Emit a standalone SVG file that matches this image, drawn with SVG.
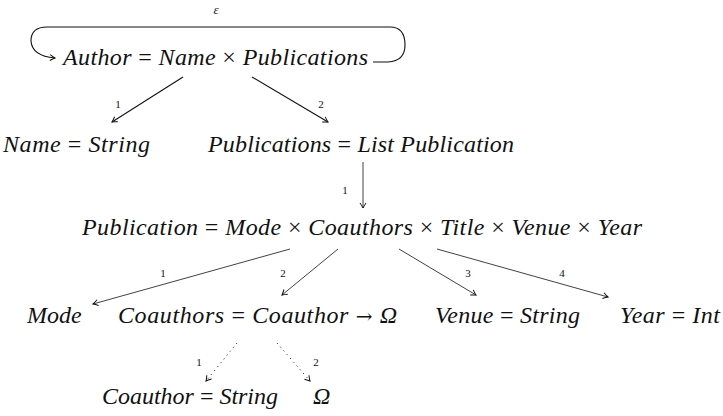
<svg xmlns="http://www.w3.org/2000/svg" width="723" height="416" viewBox="0 0 723 416">
<style>
text{font-family:'Liberation Serif','Times New Roman',serif}
.t{font-size:24px;font-style:italic;fill:#111}
.u{font-style:normal}
.ar{font-style:normal;font-family:'DejaVu Serif',serif;font-size:20px}
.l{font-size:11px;fill:#111;text-anchor:middle}
.e{stroke:#111;stroke-width:1.1;fill:none}
.th{stroke:#111;stroke-width:0.8;fill:none}
.d{stroke:#111;stroke-width:1;fill:none;stroke-dasharray:1 4}
</style>
<defs>
<marker id="ah" viewBox="-6 -4 7 8" refX="0" refY="0" markerWidth="7" markerHeight="8" markerUnits="userSpaceOnUse" orient="auto">
<path d="M -5 -3 Q -1.8 -0.8 0 0 Q -1.8 0.8 -5 3" stroke="#111" stroke-width="1" fill="none"/>
</marker>
</defs>
<rect width="723" height="416" fill="#fff"/>
<g id="connectors">
<path class="e" d="M 373 62 L 388 62 Q 405 61 405 45 Q 405 27 390 27 L 47 27 Q 31 27 31 41 Q 32 56 55 58" marker-end="url(#ah)"/>
<text class="l" x="216" y="14" style="font-style:italic;font-size:13px">ε</text>
<line class="e" x1="183" y1="77" x2="112" y2="122" marker-end="url(#ah)"/>
<text class="l" x="118" y="108">1</text>
<line class="e" x1="252" y1="77" x2="328" y2="122" marker-end="url(#ah)"/>
<text class="l" x="321" y="108">2</text>
<line class="th" x1="363" y1="162" x2="363" y2="208" marker-end="url(#ah)"/>
<text class="l" x="345" y="194">1</text>
<line class="th" x1="290" y1="249" x2="93" y2="304" marker-end="url(#ah)"/>
<text class="l" x="163" y="277">1</text>
<line class="th" x1="338" y1="249" x2="282" y2="295" marker-end="url(#ah)"/>
<text class="l" x="283" y="277">2</text>
<line class="th" x1="399" y1="249" x2="476" y2="295" marker-end="url(#ah)"/>
<text class="l" x="468" y="277">3</text>
<line class="th" x1="437" y1="249" x2="608" y2="297" marker-end="url(#ah)"/>
<text class="l" x="562" y="277">4</text>
<line class="d" x1="237" y1="343" x2="206" y2="381" marker-end="url(#ah)"/>
<text class="l" x="199" y="366">1</text>
<line class="d" x1="277" y1="343" x2="310" y2="381" marker-end="url(#ah)"/>
<text class="l" x="316" y="366">2</text>
</g>
<g id="author"><text class="t" x="63" y="65" textLength="305" lengthAdjust="spacing">Author <tspan class="u">=</tspan> Name <tspan class="u">×</tspan> Publications</text></g>
<g id="name"><text class="t" x="3" y="152" textLength="147" lengthAdjust="spacing">Name <tspan class="u">=</tspan> String</text></g>
<g id="publications"><text class="t" x="208" y="152" textLength="306" lengthAdjust="spacing">Publications <tspan class="u">=</tspan> List Publication</text></g>
<g id="publication"><text class="t" x="82" y="235" textLength="560" lengthAdjust="spacing">Publication <tspan class="u">=</tspan> Mode <tspan class="u">×</tspan> Coauthors <tspan class="u">×</tspan> Title <tspan class="u">×</tspan> Venue <tspan class="u">×</tspan> Year</text></g>
<g id="mode"><text class="t" x="27" y="323">Mode</text></g>
<g id="coauthors"><text class="t" x="118" y="323" textLength="279" lengthAdjust="spacing">Coauthors <tspan class="u">=</tspan> Coauthor <tspan class="ar">→</tspan> Ω</text></g>
<g id="venue"><text class="t" x="435" y="323" textLength="145" lengthAdjust="spacing">Venue <tspan class="u">=</tspan> String</text></g>
<g id="year"><text class="t" x="620" y="323" textLength="100" lengthAdjust="spacing">Year <tspan class="u">=</tspan> Int</text></g>
<g id="coauthor"><text class="t" x="102" y="404" textLength="176" lengthAdjust="spacing">Coauthor <tspan class="u">=</tspan> String</text></g>
<g id="omega"><text class="t" x="313" y="404">Ω</text></g>
</svg>
